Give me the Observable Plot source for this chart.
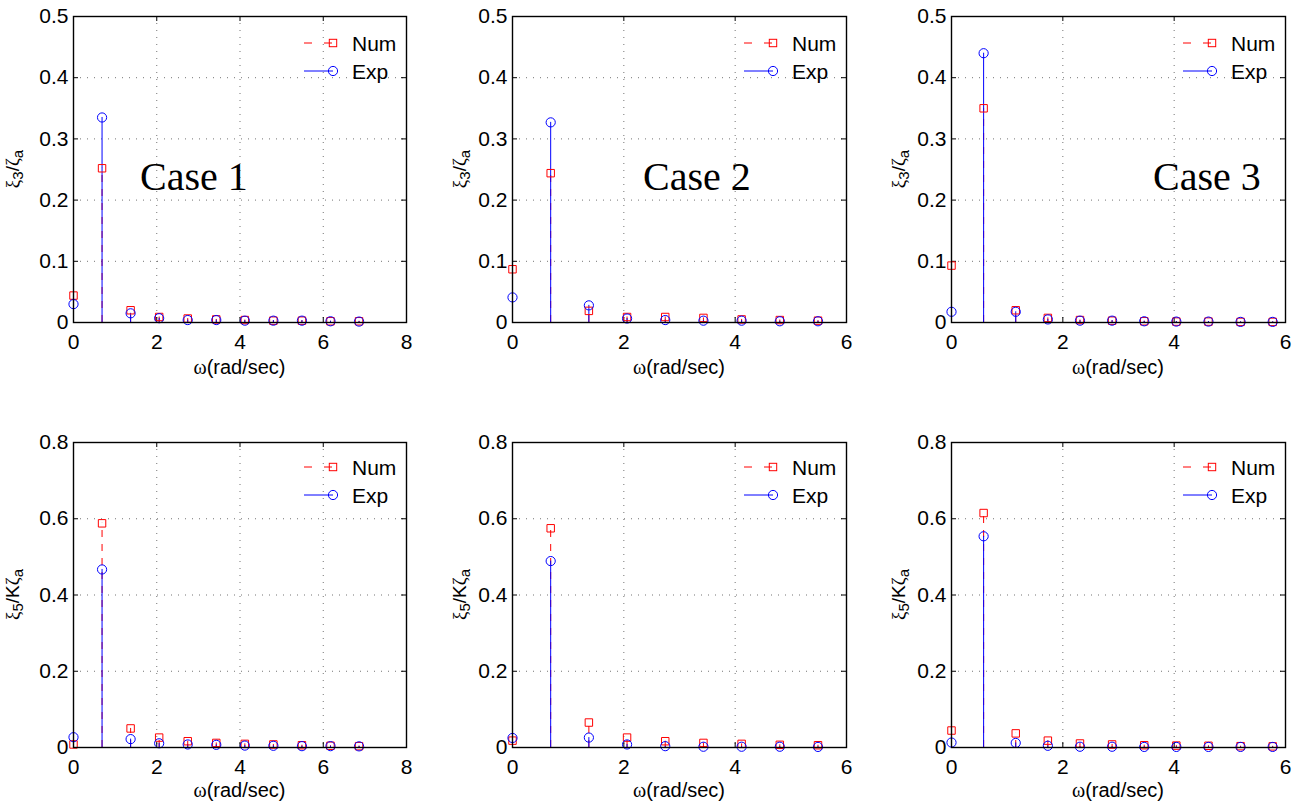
<!DOCTYPE html>
<html><head><meta charset="utf-8">
<script src="https://cdn.jsdelivr.net/npm/d3@7"></script>
<script src="https://cdn.jsdelivr.net/npm/@observablehq/plot@0.6"></script>
<style>
body{margin:0;background:#fff;}
#wrap{position:relative;width:1303px;height:805px;overflow:hidden;background:#fff;}
.panel{position:absolute;}
</style></head><body><div id="wrap"></div>
<script>
// ---- data ----
const freq1 = [0, 0.686, 1.372, 2.058, 2.744, 3.43, 4.116, 4.802, 5.488, 6.174, 6.86];
const freq2 = [0, 0.686, 1.372, 2.058, 2.744, 3.43, 4.116, 4.802, 5.488];
const freq3 = [0, 0.577, 1.154, 1.731, 2.308, 2.885, 3.462, 4.039, 4.616, 5.193, 5.77];

// heave  xi3 / zeta_a
const heave1Num = [0.044, 0.252, 0.020, 0.009, 0.0065, 0.005, 0.004, 0.003, 0.003, 0.002, 0.002];
const heave1Exp = [0.030, 0.335, 0.015, 0.007, 0.004, 0.004, 0.003, 0.003, 0.003, 0.002, 0.0015];
const heave2Num = [0.087, 0.244, 0.019, 0.009, 0.009, 0.0075, 0.005, 0.004, 0.003];
const heave2Exp = [0.041, 0.327, 0.028, 0.0065, 0.004, 0.003, 0.003, 0.002, 0.002];
const heave3Num = [0.093, 0.350, 0.020, 0.0075, 0.004, 0.003, 0.002, 0.0015, 0.0015, 0.001, 0.001];
const heave3Exp = [0.0175, 0.440, 0.0175, 0.005, 0.003, 0.003, 0.002, 0.0015, 0.0015, 0.001, 0.001];

// pitch  xi5 / K zeta_a
const pitch1Num = [0.008, 0.588, 0.050, 0.026, 0.0165, 0.012, 0.0095, 0.008, 0.006, 0.0045, 0.0035];
const pitch1Exp = [0.027, 0.467, 0.022, 0.011, 0.008, 0.007, 0.005, 0.0045, 0.0035, 0.0035, 0.003];
const pitch2Num = [0.018, 0.575, 0.0655, 0.026, 0.0165, 0.012, 0.0095, 0.007, 0.006];
const pitch2Exp = [0.025, 0.489, 0.026, 0.008, 0.0035, 0.002, 0.002, 0.002, 0.0015];
const pitch3Num = [0.0445, 0.615, 0.037, 0.018, 0.0105, 0.008, 0.006, 0.005, 0.0045, 0.0035, 0.003];
const pitch3Exp = [0.013, 0.554, 0.012, 0.0045, 0.002, 0.002, 0.0015, 0.0015, 0.0015, 0.0015, 0.0015];

const xTicks8 = [0, 2, 4, 6, 8];
const xTicks6 = [0, 2, 4, 6];
const yTicksHeave = [0, 0.1, 0.2, 0.3, 0.4, 0.5];
const yTicksPitch = [0, 0.2, 0.4, 0.6, 0.8];
const caseLabels = ["Case 1", "Case 2", "Case 3"];
const seriesNames = ["Num", "Exp"];
const xLabelSym = "ω", xLabelRest = "(rad/sec)";

// ---- layout ----
const cols = [
  {left: 0,   ml: 73, mr: 21, w: 427, yl: 54, caseDx: 67},
  {left: 430, ml: 82, mr: 20, w: 436, yl: 46, caseDx: 131},
  {left: 860, ml: 91, mr: 18, w: 443, yl: 46, caseDx: 202}
];
const rowsL = [
  {top: 0,   mt: 16, mb: 70, h: 392},
  {top: 420, mt: 22, mb: 58, h: 385}
];

const panels = [
  {r: 0, c: 0, freq: freq1, num: heave1Num, exp: heave1Exp, xTicks: xTicks8, yTicks: yTicksHeave, kind: "heave", caseLabel: caseLabels[0]},
  {r: 0, c: 1, freq: freq2, num: heave2Num, exp: heave2Exp, xTicks: xTicks6, yTicks: yTicksHeave, kind: "heave", caseLabel: caseLabels[1]},
  {r: 0, c: 2, freq: freq3, num: heave3Num, exp: heave3Exp, xTicks: xTicks6, yTicks: yTicksHeave, kind: "heave", caseLabel: caseLabels[2]},
  {r: 1, c: 0, freq: freq1, num: pitch1Num, exp: pitch1Exp, xTicks: xTicks8, yTicks: yTicksPitch, kind: "pitch"},
  {r: 1, c: 1, freq: freq2, num: pitch2Num, exp: pitch2Exp, xTicks: xTicks6, yTicks: yTicksPitch, kind: "pitch"},
  {r: 1, c: 2, freq: freq3, num: pitch3Num, exp: pitch3Exp, xTicks: xTicks6, yTicks: yTicksPitch, kind: "pitch"}
];

const SANS = "'Liberation Sans', Arial, Helvetica, sans-serif";
const SERIF = "'Liberation Serif', 'Times New Roman', serif";
const RED = "#ff0000", BLUE = "#0000ff";
const wrap = document.getElementById("wrap");

for (const p of panels) {
  const C = cols[p.c], R = rowsL[p.r];
  const pw = C.w - C.ml - C.mr, ph = R.h - R.mt - R.mb;
  const table = p.freq.map((f, i) => ({w: f, num: p.num[i], exp: p.exp[i]}));
  const xMax = p.xTicks[p.xTicks.length - 1];
  const yMax = p.yTicks[p.yTicks.length - 1];
  const grid = {stroke: "#000", strokeOpacity: 0.55, strokeDasharray: "1,6"};
  const svg = Plot.plot({
    width: C.w, height: R.h,
    marginLeft: C.ml, marginRight: C.mr, marginTop: R.mt, marginBottom: R.mb,
    style: {fontFamily: SANS, fontSize: "21px", color: "#000", background: "#fff", overflow: "visible"},
    x: {domain: [0, xMax]},
    y: {domain: [0, yMax]},
    marks: [
      Plot.gridX(p.xTicks, {x: d => d, ...grid}),
      Plot.gridY(p.yTicks, {y: d => d, ...grid}),
      Plot.tickX(p.xTicks, {x: d => d, insetTop: ph - 5, stroke: "#000"}),
      Plot.tickX(p.xTicks, {x: d => d, insetBottom: ph - 5, stroke: "#000"}),
      Plot.tickY(p.yTicks, {y: d => d, insetRight: pw - 5, stroke: "#000"}),
      Plot.tickY(p.yTicks, {y: d => d, insetLeft: pw - 5, stroke: "#000"}),
      Plot.axisX(p.xTicks, {tickSize: 0, tickPadding: 12, label: null, fontSize: 21, tickFormat: d => String(d)}),
      Plot.axisY(p.yTicks, {tickSize: 0, tickPadding: 5, label: null, fontSize: 21, tickFormat: d => String(d)}),
      Plot.ruleX(table, {x: "w", y1: 0, y2: "num", stroke: RED, strokeWidth: 1, strokeDasharray: "7,7"}),
      Plot.ruleX(table, {x: "w", y1: 0, y2: "exp", stroke: BLUE, strokeWidth: 1}),
      Plot.dot(table, {x: "w", y: "num", symbol: "square", r: 4.2, stroke: RED, fill: "none", strokeWidth: 1}),
      Plot.dot(table, {x: "w", y: "exp", symbol: "circle", r: 4.6, stroke: BLUE, fill: "none", strokeWidth: 1}),
      Plot.frame({stroke: "#000", strokeWidth: 1.4})
    ]
  });
  const s = d3.select(svg);
  const right = C.ml + pw;

  // legend (no box)
  const lg = s.append("g").attr("text-anchor", "start");
  const rowsY = [R.mt + (p.r === 0 ? 27 : 25), R.mt + (p.r === 0 ? 55 : 53)];
  // Num
  lg.append("line").attr("x1", right - 102).attr("x2", right - 73).attr("y1", rowsY[0]).attr("y2", rowsY[0])
    .attr("stroke", RED).attr("stroke-dasharray", "8,12");
  lg.append("rect").attr("x", right - 73 - 3.7).attr("y", rowsY[0] - 3.7).attr("width", 7.4).attr("height", 7.4)
    .attr("fill", "none").attr("stroke", RED);
  lg.append("text").attr("x", right - 54).attr("y", rowsY[0] + 7.5).attr("text-anchor", "start")
    .attr("font-family", SANS).attr("font-size", 21).text(seriesNames[0]);
  // Exp
  lg.append("line").attr("x1", right - 102).attr("x2", right - 73).attr("y1", rowsY[1]).attr("y2", rowsY[1])
    .attr("stroke", BLUE);
  lg.append("circle").attr("cx", right - 73).attr("cy", rowsY[1]).attr("r", 4.6)
    .attr("fill", "none").attr("stroke", BLUE);
  lg.append("text").attr("x", right - 54).attr("y", rowsY[1] + 7.5).attr("text-anchor", "start")
    .attr("font-family", SANS).attr("font-size", 21).text(seriesNames[1]);

  // case label
  if (p.caseLabel) {
    s.append("text").attr("x", C.ml + C.caseDx).attr("y", R.mt + 174).attr("text-anchor", "start")
      .attr("font-family", SERIF).attr("font-size", 40).text(p.caseLabel);
  }

  // x label
  const xl = s.append("text").attr("x", C.ml + pw / 2).attr("y", R.mt + ph + (p.r === 0 ? 52 : 50))
    .attr("text-anchor", "middle").attr("font-size", 20).attr("font-family", SANS);
  xl.append("tspan").attr("font-family", SERIF).text(xLabelSym);
  xl.append("tspan").text(xLabelRest);

  // y label
  const yl = s.append("text")
    .attr("transform", `translate(${C.ml - C.yl},${R.mt + ph / 2}) rotate(-90)`)
    .attr("text-anchor", "middle").attr("font-size", 19).attr("font-family", SANS);
  yl.append("tspan").attr("font-family", SERIF).attr("font-size", 19).text("ξ");
  yl.append("tspan").attr("font-size", 15).attr("dy", 4).text(p.kind === "heave" ? "3" : "5");
  yl.append("tspan").attr("dy", -4).text(p.kind === "heave" ? "/" : "/K");
  yl.append("tspan").attr("font-family", SERIF).attr("font-size", 19).text("ζ");
  yl.append("tspan").attr("font-size", 15).attr("dy", 4).text("a");

  svg.classList.add("panel");
  svg.style.left = C.left + "px";
  svg.style.top = R.top + "px";
  svg.style.position = "absolute";
  wrap.appendChild(svg);
}
</script>
</body></html>
